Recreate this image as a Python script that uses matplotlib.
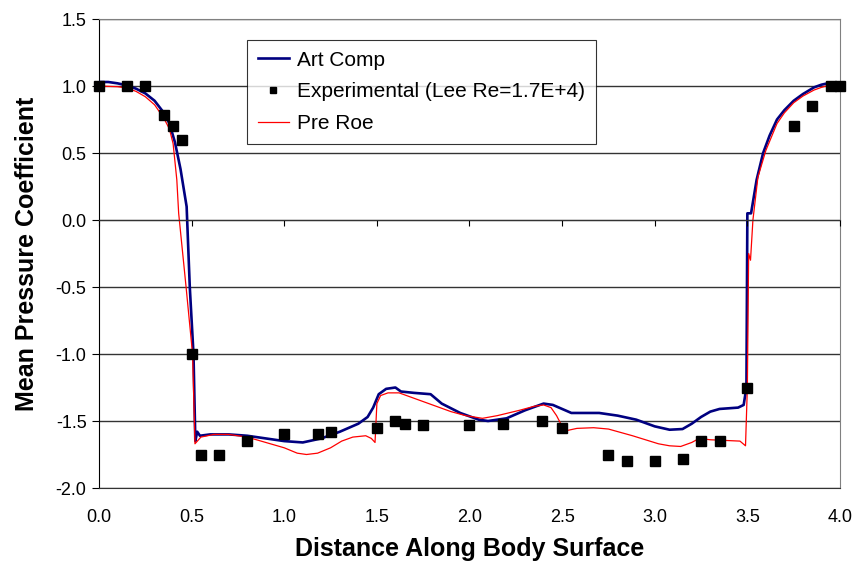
import numpy as np
import matplotlib.pyplot as plt

plt.rcParams['font.family'] = ['Liberation Sans', 'DejaVu Sans']

# Art Comp (blue) curve
art_x = [0.0, 0.05, 0.1, 0.15, 0.2, 0.25, 0.3, 0.35, 0.38, 0.41, 0.44, 0.473, 0.49, 0.51,
         0.52, 0.53, 0.545, 0.6, 0.7, 0.8, 0.9, 1.0, 1.1, 1.2, 1.3, 1.4, 1.45, 1.48, 1.51,
         1.55, 1.6, 1.63, 1.7, 1.79, 1.85, 1.95, 2.05, 2.1, 2.2, 2.3, 2.4, 2.45, 2.5, 2.55,
         2.7, 2.8, 2.9, 3.0, 3.08, 3.15, 3.2, 3.25, 3.3, 3.35, 3.45, 3.48, 3.495, 3.50,
         3.52, 3.55, 3.585, 3.62, 3.66, 3.7, 3.75, 3.8, 3.86, 3.9, 3.95, 4.0]
art_y = [1.03, 1.03, 1.02, 1.005, 0.98, 0.945, 0.89, 0.80, 0.72, 0.58, 0.38, 0.10, -0.5,
         -1.0, -1.65, -1.58, -1.61, -1.6, -1.6, -1.61, -1.63, -1.65, -1.66, -1.63, -1.58,
         -1.52, -1.47, -1.40, -1.30, -1.26, -1.25, -1.28, -1.29, -1.30, -1.37, -1.44, -1.49,
         -1.50, -1.48, -1.42, -1.37, -1.38, -1.41, -1.44, -1.44, -1.46, -1.49, -1.54, -1.565,
         -1.56, -1.52, -1.47, -1.43, -1.41, -1.40, -1.38, -1.25, 0.05, 0.05, 0.30, 0.50,
         0.63, 0.75, 0.82, 0.89, 0.94, 0.99, 1.01, 1.025, 1.025]

# Pre Roe (red) curve
roe_x = [0.0, 0.1, 0.15, 0.2, 0.25, 0.3, 0.35, 0.38, 0.40, 0.42, 0.43, 0.47, 0.505, 0.518,
         0.55, 0.62, 0.7, 0.8, 0.9, 1.0, 1.07, 1.12, 1.18, 1.25, 1.31, 1.37, 1.44, 1.47,
         1.49, 1.50, 1.52, 1.56, 1.62, 1.7, 1.8, 1.9, 1.98, 2.07, 2.15, 2.27, 2.35, 2.4,
         2.44, 2.47, 2.5, 2.53, 2.58, 2.67, 2.75, 2.88, 2.95, 3.02, 3.08, 3.14, 3.2, 3.24,
         3.3, 3.46, 3.49, 3.50, 3.507, 3.517, 3.53, 3.557, 3.6, 3.66, 3.7, 3.75, 3.8, 3.86,
         3.9, 3.95, 4.0]
roe_y = [1.0, 0.995, 0.985, 0.96, 0.92, 0.86, 0.76, 0.68, 0.57, 0.30, 0.05, -0.5, -1.0,
         -1.67, -1.62, -1.60, -1.60, -1.62, -1.66, -1.70, -1.74, -1.75, -1.74, -1.70, -1.65,
         -1.62, -1.61, -1.63, -1.66, -1.37, -1.31, -1.29, -1.29, -1.33, -1.38, -1.43, -1.46,
         -1.48, -1.46, -1.42, -1.39, -1.38, -1.40, -1.46, -1.54, -1.57, -1.555, -1.55, -1.56,
         -1.61, -1.64, -1.67, -1.685, -1.69, -1.66, -1.63, -1.64, -1.65, -1.685, -1.25,
         -0.25, -0.30, 0.0, 0.32, 0.52, 0.72, 0.80, 0.875, 0.925, 0.97, 0.99, 1.01, 1.02]

# Experimental points
exp_x = [0.0, 0.15, 0.25, 0.35, 0.4, 0.45, 0.5, 0.55, 0.65, 0.8, 1.0, 1.18, 1.25, 1.5, 1.6,
         1.65, 1.75, 2.0, 2.18, 2.39, 2.5, 2.75, 2.85, 3.0, 3.15, 3.25, 3.35, 3.5, 3.75,
         3.85, 3.95, 4.0]
exp_y = [1.0, 1.0, 1.0, 0.78, 0.70, 0.60, -1.0, -1.75, -1.75, -1.65, -1.6, -1.6, -1.58,
         -1.55, -1.5, -1.52, -1.53, -1.53, -1.52, -1.5, -1.55, -1.75, -1.8, -1.8, -1.78,
         -1.65, -1.65, -1.25, 0.7, 0.85, 1.0, 1.0]

fig = plt.figure(figsize=(8.58, 5.66), dpi=100)
ax = fig.add_axes([0.1154, 0.1378, 0.8636, 0.8286])

ax.set_xlim(0, 4)
ax.set_ylim(-2, 1.5)
ax.set_yticks(np.arange(-2, 1.51, 0.5))
ax.set_xticks(np.arange(0, 4.01, 0.5))
ax.yaxis.set_major_formatter(plt.FormatStrFormatter('%.1f'))
ax.xaxis.set_major_formatter(plt.FormatStrFormatter('%.1f'))
ax.grid(axis='y', color='#333333', lw=1)
ax.set_axisbelow(True)

for s in ['top', 'right']:
    ax.spines[s].set_color('#808080')
ax.spines['bottom'].set_color('#333333')
ax.spines['left'].set_color('black')
ax.tick_params(axis='y', direction='out', length=5, labelsize=13, pad=4)
ax.tick_params(axis='x', length=0, labelsize=13, pad=15)

# x-axis crossing at y = 0 with its tick marks
ax2 = ax.twiny()
ax2.set_xlim(0, 4)
ax2.set_xticks(np.arange(0, 4.01, 0.5))
for s in ['top', 'right', 'left']:
    ax2.spines[s].set_visible(False)
ax2.spines['bottom'].set_position(('data', 0))
ax2.spines['bottom'].set_color('#333333')
ax2.xaxis.set_ticks_position('bottom')
ax2.tick_params(axis='x', direction='out', length=4, labelbottom=False, labeltop=False)

ax.plot(art_x, art_y, color='#000080', lw=1.9, label='Art Comp', zorder=3)
ax.plot(exp_x, exp_y, 's', color='black', ms=6.5, ls='none',
        label='Experimental (Lee Re=1.7E+4)', zorder=4, clip_on=False)
ax.plot(roe_x, roe_y, color='#ff0000', lw=0.9, label='Pre Roe', zorder=3)

leg = ax.legend(loc='upper left', bbox_to_anchor=(0.2, 0.955), borderaxespad=0,
                fontsize=15, frameon=True, fancybox=False, edgecolor='black',
                borderpad=0.5, labelspacing=0.62, handlelength=1.5, handletextpad=0.4,
                markerscale=0.6)
leg.get_frame().set_linewidth(0.8)

ax.set_xlabel('Distance Along Body Surface', fontsize=18, fontweight='bold', labelpad=8)
ax.set_ylabel('Mean Pressure Coefficient', fontsize=18, fontweight='bold', labelpad=12)

fig.savefig('out.png', dpi=100)
